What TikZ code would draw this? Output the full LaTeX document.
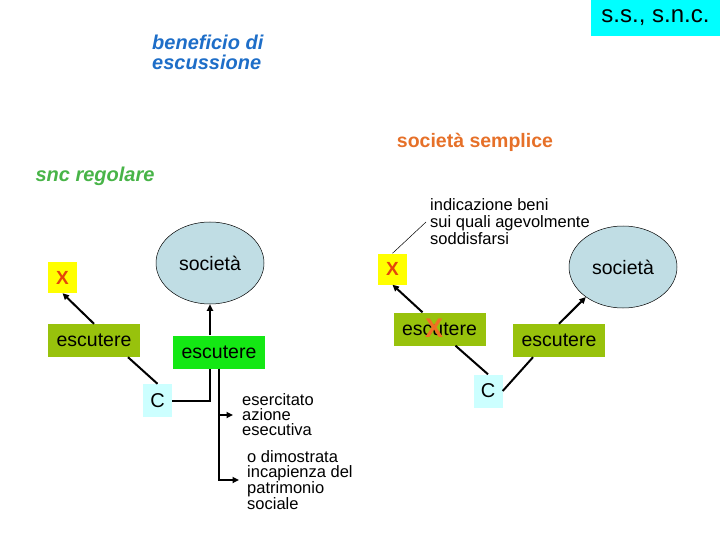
\documentclass[tikz,border=0pt]{standalone}
\usepackage{fontspec}
\setmainfont{Liberation Sans}
\usetikzlibrary{arrows.meta,shapes.geometric}
\definecolor{colOlive}{RGB}{152,194,12}
\definecolor{colGreen}{RGB}{20,232,20}
\definecolor{colYellow}{RGB}{255,255,0}
\definecolor{colCy}{RGB}{204,255,255}
\definecolor{colTop}{RGB}{0,255,255}
\definecolor{colEll}{RGB}{192,221,228}
\definecolor{colRed}{RGB}{228,70,10}
\definecolor{colOrX}{RGB}{240,112,36}
\definecolor{colBlue}{RGB}{30,110,200}
\definecolor{colOrange}{RGB}{230,112,40}
\definecolor{colSnc}{RGB}{72,180,72}
\tikzset{
  escbox/.style={rectangle, inner sep=0pt, minimum width=92pt, minimum height=33pt, font=\fontsize{19.5}{20}\selectfont},
  xbox/.style={rectangle, fill=colYellow, inner sep=0pt, minimum width=29pt, minimum height=31pt, text=colRed, font=\bfseries\fontsize{19}{20}\selectfont},
  cbox/.style={rectangle, fill=colCy, inner sep=0pt, minimum width=29pt, minimum height=33pt, font=\fontsize{20}{20}\selectfont},
  soc/.style={ellipse, draw=black, line width=0.5pt, fill=colEll, minimum width=108pt, minimum height=82pt, inner sep=0pt, font=\fontsize{19.5}{20}\selectfont},
  arr/.style={line width=2pt, -{Triangle[length=6.5pt,width=6pt]}},
  ln/.style={line width=2pt},
  note/.style={anchor=west, align=left, inner ysep=0pt, font=\fontsize{16.5}{15}\selectfont},
}
\begin{document}
\begin{tikzpicture}[x=1pt,y=-1pt]
\path[use as bounding box] (0,0) rectangle (720,540);

% titles
\node[rectangle, fill=colTop, minimum width=129pt, minimum height=36pt, inner sep=0pt, font=\fontsize{24}{24}\selectfont] (ss) at (655.5,18) {s.s., s.n.c.};
\node[anchor=west, align=left, inner sep=0pt, text=colBlue, font=\bfseries\itshape\fontsize{20}{20}\selectfont] (ben) at (152,52) {beneficio di\\escussione};
\node[text=colOrange, inner sep=0pt, font=\bfseries\fontsize{19.5}{20}\selectfont] (ssem) at (475,142) {società semplice};
\node[text=colSnc, inner sep=0pt, font=\bfseries\itshape\fontsize{20}{20}\selectfont] (snc) at (95,176) {snc regolare};

% left diagram (snc)
\node[soc] (soc1) at (210,263) {società};
\node[xbox] (x1) at (62.5,277.5) {X};
\node[escbox, fill=colOlive] (esc1) at (94,340.5) {escutere};
\node[escbox, fill=colGreen] (esc2) at (219,352) {escutere};
\node[cbox] (c1) at (157.5,400.5) {C};
\node[note, inner xsep=9pt] (ese) at (233,415) {esercitato\\azione\\esecutiva};
\node[note, inner xsep=8pt] (dim) at (239,480) {o dimostrata\\incapienza del\\patrimonio\\sociale};

\draw[arr] (esc1.north) -- (x1.south);
\draw[ln] (c1.north) -- ([xshift=34pt]esc1.south);
\draw[ln] (c1.east) -| (esc2.south -| soc1.south);
\draw[arr] (esc2.north -| soc1.south) -- (soc1.south);
\draw[arr] (esc2.south) |- (ese.west);
\draw[arr] (esc2.south) |- (dim.west);

% right diagram (s.s.)
\node[soc] (soc2) at (623,267) {società};
\node[xbox] (x2) at (392.5,269) {X};
\node[escbox, fill=colOlive] (esc3) at (439.5,329) {escutere};
\node[text=colOrX, inner sep=0pt, font=\bfseries\fontsize{27}{27}\selectfont] (crossx) at (434,328) {X};
\node[escbox, fill=colOlive] (esc4) at (559,340.5) {escutere};
\node[cbox] (c2) at (488,391) {C};
\node[anchor=west, align=left, inner xsep=4pt, inner ysep=0pt, font=\fontsize{16.5}{17}\selectfont] (ind) at (426,222) {indicazione beni\\sui quali agevolmente\\soddisfarsi};

\draw[line width=0.5pt] (x2.north) -- (ind.west);
\draw[arr] ([xshift=-17pt]esc3.north) -- (x2.south);
\draw[ln] (c2.north) -- ([xshift=16pt]esc3.south);
\draw[ln] (c2.east) -- ([xshift=-26pt]esc4.south);
\draw[arr] (esc4.north) -- (soc2.219);
\end{tikzpicture}
\end{document}
